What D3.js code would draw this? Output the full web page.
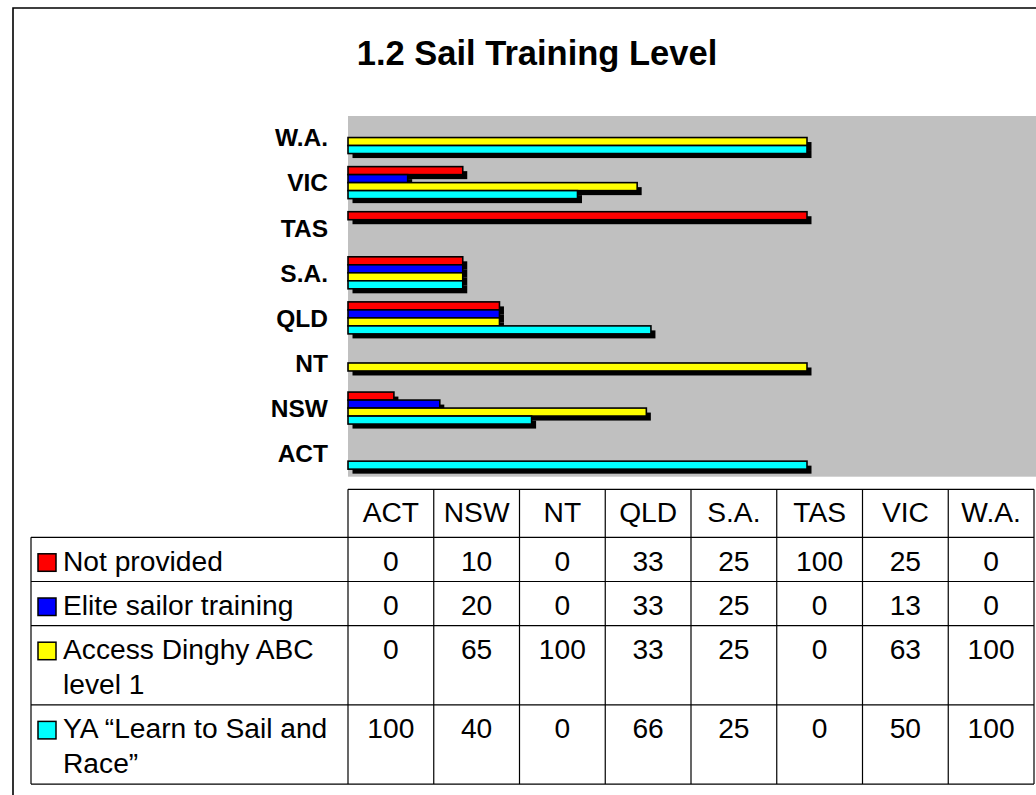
<!DOCTYPE html>
<html>
<head>
<meta charset="utf-8">
<script src="https://cdn.jsdelivr.net/npm/d3@7"></script>
<style>
  html, body { margin: 0; padding: 0; background: #fff; }
  svg { display: block; }
  text { font-family: "Liberation Sans", Arial, sans-serif; }
</style>
</head>
<body>
<svg id="chart" width="1036" height="795"></svg>
<script>
// ---- data ----
const title = "1.2 Sail Training Level";
const categories = ["ACT", "NSW", "NT", "QLD", "S.A.", "TAS", "VIC", "W.A."];
const seriesNames = ["Not provided", "Elite sailor training", "Access Dinghy ABC level 1", "YA \u201CLearn to Sail and Race\u201D"];
const seriesLabelLines = [["Not provided"], ["Elite sailor training"], ["Access Dinghy ABC", "level 1"], ["YA \u201CLearn to Sail and", "Race\u201D"]];
const seriesColors = ["#FF0000", "#0000FF", "#FFFF00", "#00FFFF"];
const notProvided = [0, 10, 0, 33, 25, 100, 25, 0];
const eliteTraining = [0, 20, 0, 33, 25, 0, 13, 0];
const accessDinghy = [0, 65, 100, 33, 25, 0, 63, 100];
const yaLearnToSail = [100, 40, 0, 66, 25, 0, 50, 100];
const seriesValues = [notProvided, eliteTraining, accessDinghy, yaLearnToSail];

// ---- layout ----
const svg = d3.select("#chart");
const plot = { left: 348, right: 1036.5, top: 116, bottom: 476.7 };
const tableRight = 1034;

// outer frame
svg.append("path")
  .attr("d", `M13,795 L13,8 L1036,8`)
  .attr("fill", "none").attr("stroke", "#000").attr("stroke-width", 1.6);

// title
svg.append("text")
  .attr("x", 537).attr("y", 65)
  .attr("text-anchor", "middle")
  .attr("font-weight", "bold").attr("font-size", 34.5)
  .text(title);

// scales
const x = d3.scaleLinear().domain([0, 150]).range([plot.left, plot.right]);
const y = d3.scaleBand().domain(categories.slice().reverse()).range([plot.top, plot.bottom]);
const inner = d3.scaleBand().domain(seriesNames).range([-17, 15]);

// plot background
svg.append("rect")
  .attr("x", plot.left).attr("y", plot.top)
  .attr("width", plot.right - plot.left).attr("height", plot.bottom - plot.top)
  .attr("fill", "#C0C0C0");

// category labels (y axis)
const yAxis = d3.axisLeft(y).tickSize(0).tickPadding(20);
const yg = svg.append("g").attr("transform", `translate(${plot.left},0)`).call(yAxis);
yg.select(".domain").remove();
yg.selectAll("text")
  .attr("font-family", "'Liberation Sans', Arial, sans-serif")
  .attr("font-weight", "bold").attr("font-size", 24.5).attr("fill", "#000");

// bar data
const bars = [];
seriesValues.forEach((vals, si) => {
  vals.forEach((v, ci) => {
    if (v > 0) bars.push({ s: seriesNames[si], c: categories[ci], v, color: seriesColors[si] });
  });
});

const barG = svg.append("g");
const bh = inner.bandwidth();
// shadows
barG.selectAll("rect.shadow").data(bars).join("rect")
  .attr("class", "shadow")
  .attr("x", x(0) + 4.5)
  .attr("y", d => y(d.c) + y.bandwidth() / 2 + inner(d.s) + 4.5)
  .attr("width", d => x(d.v) - x(0))
  .attr("height", bh)
  .attr("fill", "#000");
// bars
barG.selectAll("rect.bar").data(bars).join("rect")
  .attr("class", "bar")
  .attr("x", x(0))
  .attr("y", d => y(d.c) + y.bandwidth() / 2 + inner(d.s))
  .attr("width", d => x(d.v) - x(0))
  .attr("height", bh)
  .attr("fill", d => d.color)
  .attr("stroke", "#000").attr("stroke-width", 1.6);

// ---- data table ----
const col = d3.scaleBand().domain(categories).range([plot.left, tableRight]);
const headerTop = 489.3, headerBottom = 537.3;
const lineGap = 35;
const rowTops = [];
let yy = headerBottom;
seriesLabelLines.forEach(lines => { rowTops.push(yy); yy += 44.2 + (lines.length - 1) * lineGap; });
const tableBottom = yy;
const tableLeft = 31;
const fs = 28.2;
const tg = svg.append("g");
const line = (x1, y1, x2, y2) => tg.append("line")
  .attr("x1", x1).attr("y1", y1).attr("x2", x2).attr("y2", y2)
  .attr("stroke", "#000").attr("stroke-width", 1.2);

// header
line(plot.left, headerTop, tableRight, headerTop);
categories.forEach(c => {
  tg.append("text")
    .attr("x", col(c) + col.bandwidth() / 2).attr("y", headerTop + 32.5)
    .attr("text-anchor", "middle").attr("font-size", fs).text(c);
});
// horizontal row lines
[headerBottom, ...rowTops.slice(1), tableBottom].forEach(v => line(tableLeft, v, tableRight, v));
// vertical lines
line(tableLeft, headerBottom, tableLeft, tableBottom);
categories.forEach(c => line(col(c), headerTop, col(c), tableBottom));
line(tableRight, headerTop, tableRight, tableBottom);

// rows
seriesLabelLines.forEach((lines, si) => {
  const top = rowTops[si];
  tg.append("rect")
    .attr("x", 38).attr("y", top + 16.5).attr("width", 18).attr("height", 17.5)
    .attr("fill", seriesColors[si]).attr("stroke", "#000").attr("stroke-width", 1.5);
  const t = tg.append("text").attr("font-size", fs);
  lines.forEach((ln, li) => {
    t.append("tspan").attr("x", 63).attr("y", top + 33.5 + li * lineGap).text(ln);
  });
  seriesValues[si].forEach((v, ci) => {
    tg.append("text")
      .attr("x", col(categories[ci]) + col.bandwidth() / 2).attr("y", top + 33.5)
      .attr("text-anchor", "middle").attr("font-size", fs).text(v);
  });
});
</script>
</body>
</html>
